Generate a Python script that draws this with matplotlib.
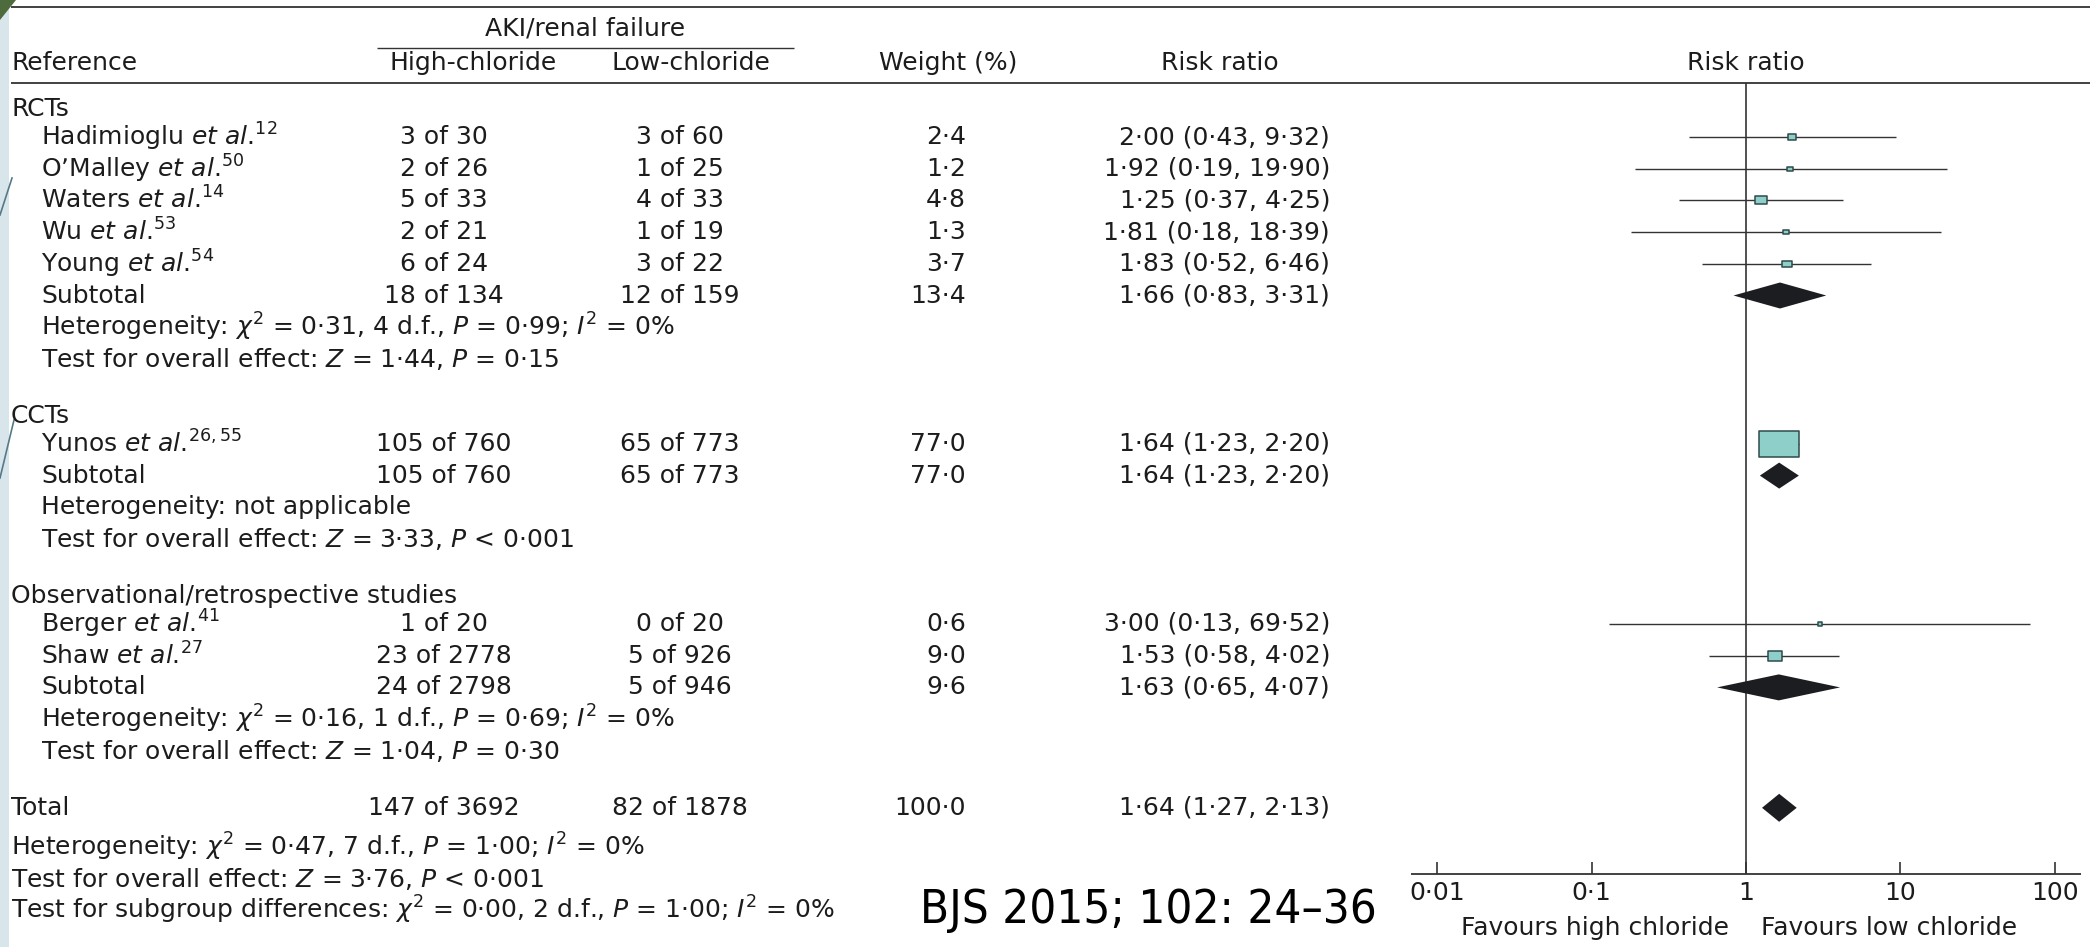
import numpy as np
import matplotlib.pyplot as plt
from matplotlib.patches import Rectangle, Polygon
from matplotlib.path import Path

plt.rcParams['font.family'] = ['DejaVu Sans']
plt.rcParams['mathtext.fontset'] = 'dejavusans'

# ---- data ----
groups = ["RCTs", "CCTs", "Observational/retrospective studies"]
authors = ["Hadimioglu", "O\u2019Malley", "Waters", "Wu", "Young", "Yunos", "Berger", "Shaw"]
refs = ["12", "50", "14", "53", "54", "26,55", "41", "27"]
study_group = [0, 0, 0, 0, 0, 1, 2, 2]
high_ev = [3, 2, 5, 2, 6, 105, 1, 23]
high_n = [30, 26, 33, 21, 24, 760, 20, 2778]
low_ev = [3, 1, 4, 1, 3, 65, 0, 5]
low_n = [60, 25, 33, 19, 22, 773, 20, 926]
weight = [2.4, 1.2, 4.8, 1.3, 3.7, 77.0, 0.6, 9.0]
rr = [2.00, 1.92, 1.25, 1.81, 1.83, 1.64, 3.00, 1.53]
rr_lo = [0.43, 0.19, 0.37, 0.18, 0.52, 1.23, 0.13, 0.58]
rr_hi = [9.32, 19.90, 4.25, 18.39, 6.46, 2.20, 69.52, 4.02]

sub_high_ev = [18, 105, 24]
sub_high_n = [134, 760, 2798]
sub_low_ev = [12, 65, 5]
sub_low_n = [159, 773, 946]
sub_weight = [13.4, 77.0, 9.6]
sub_rr = [1.66, 1.64, 1.63]
sub_lo = [0.83, 1.23, 0.65]
sub_hi = [3.31, 2.20, 4.07]
sub_het = [r"Heterogeneity: $\chi^2$ = 0·31, 4 d.f., $P$ = 0·99; $I^2$ = 0%",
           "Heterogeneity: not applicable",
           r"Heterogeneity: $\chi^2$ = 0·16, 1 d.f., $P$ = 0·69; $I^2$ = 0%"]
sub_test = [r"Test for overall effect: $Z$ = 1·44, $P$ = 0·15",
            r"Test for overall effect: $Z$ = 3·33, $P$ < 0·001",
            r"Test for overall effect: $Z$ = 1·04, $P$ = 0·30"]

tot_high = (147, 3692)
tot_low = (82, 1878)
tot_weight = 100.0
tot_rr, tot_lo, tot_hi = 1.64, 1.27, 2.13
tot_notes = [r"Heterogeneity: $\chi^2$ = 0·47, 7 d.f., $P$ = 1·00; $I^2$ = 0%",
             r"Test for overall effect: $Z$ = 3·76, $P$ < 0·001",
             r"Test for subgroup differences: $\chi^2$ = 0·00, 2 d.f., $P$ = 1·00; $I^2$ = 0%"]

ticks = [0.01, 0.1, 1, 10, 100]
tick_labels = ["0·01", "0·1", "1", "10", "100"]


def dot(v, d=2):
    return f"{v:.{d}f}".replace(".", "\u00b7")


# ---- layout (pixels) ----
W, H = 2090, 947
FS = 18
TXT = "#1c1c1c"
LINE = "#333333"
X_LEFT, X_IND = 11, 41
X_HIGH, X_LOW = 444, 680
X_WEIGHT, X_RR = 966, 1330
PITCH, HEAD_GAP, GROUP_GAP = 31.7, 28, 57

fig = plt.figure(figsize=(W / 100, H / 100), dpi=100)
ax = fig.add_axes([0, 0, 1, 1])
ax.set_xlim(0, W)
ax.set_ylim(H, 0)
ax.axis('off')

fx0, fx1 = 1411, 2081
fa = fig.add_axes([fx0 / W, 0, (fx1 - fx0) / W, 1])
fa.set_xscale('log')
fa.set_xlim(10 ** -2.17, 10 ** 2.17)
fa.set_ylim(H, 0)
fa.axis('off')

# slide decoration on the left edge
ax.add_patch(Rectangle((0, 0), 9, H, color="#d8e6eb", lw=0))
ax.add_patch(Polygon([(0, 0), (16, 0), (0, 20)], color="#4d6b3c", lw=0))
ax.plot([0, 12], [215, 178], color="#56798a", lw=1.2)
ax.plot([0, 14], [478, 420], color="#56798a", lw=1.2)


def put(x, y, s, ha='left', size=FS, **kw):
    ax.text(x, y, s, ha=ha, va='center', fontsize=size, color=TXT, **kw)


# header
ax.hlines([7, 83], 11, W, color=LINE, lw=1.3)
ax.hlines(48, 377, 794, color=LINE, lw=1.0)
put(585, 28, "AKI/renal failure", ha='center')
put(X_LEFT, 63, "Reference")
put(473, 63, "High-chloride", ha='center')
put(691, 63, "Low-chloride", ha='center')
put(948, 63, "Weight (%)", ha='center')
put(1220, 63, "Risk ratio", ha='center')
fa.text(1, 63, "Risk ratio", ha='center', va='center', fontsize=FS, color=TXT)

box = Path([(-1.5, -1), (1.5, -1), (1.5, 1), (-1.5, 1), (-1.5, -1)],
           [Path.MOVETO, Path.LINETO, Path.LINETO, Path.LINETO, Path.CLOSEPOLY])


def diamond(y, c, lo, hi, h=13):
    fa.fill([lo, c, hi, c], [y, y - h, y, y + h], color="#1c1d21", lw=0, zorder=3)


y = 109
for g, gname in enumerate(groups):
    put(X_LEFT, y, gname)
    y += HEAD_GAP
    for i in [k for k, sg in enumerate(study_group) if sg == g]:
        put(X_IND, y, authors[i] + r" $\mathit{et\ al}$.$^{" + refs[i] + "}$")
        put(X_HIGH, y, f"{high_ev[i]} of {high_n[i]}", ha='center')
        put(X_LOW, y, f"{low_ev[i]} of {low_n[i]}", ha='center')
        put(X_WEIGHT, y, dot(weight[i], 1), ha='right')
        put(X_RR, y, f"{dot(rr[i])} ({dot(rr_lo[i])}, {dot(rr_hi[i])})", ha='right')
        fa.hlines(y, rr_lo[i], rr_hi[i], color=LINE, lw=1.0, zorder=2)
        fa.plot(rr[i], y, marker=box, ms=3.2 * np.sqrt(weight[i]) + 1, mfc="#8ecfc9",
                mec="#2f4a4a", mew=1.1, zorder=4)
        y += PITCH
    put(X_IND, y, "Subtotal")
    put(X_HIGH, y, f"{sub_high_ev[g]} of {sub_high_n[g]}", ha='center')
    put(X_LOW, y, f"{sub_low_ev[g]} of {sub_low_n[g]}", ha='center')
    put(X_WEIGHT, y, dot(sub_weight[g], 1), ha='right')
    put(X_RR, y, f"{dot(sub_rr[g])} ({dot(sub_lo[g])}, {dot(sub_hi[g])})", ha='right')
    diamond(y, sub_rr[g], sub_lo[g], sub_hi[g])
    y += PITCH
    put(X_IND, y, sub_het[g])
    y += PITCH
    put(X_IND, y, sub_test[g])
    y += GROUP_GAP

put(X_LEFT, y, "Total")
put(X_HIGH, y, f"{tot_high[0]} of {tot_high[1]}", ha='center')
put(X_LOW, y, f"{tot_low[0]} of {tot_low[1]}", ha='center')
put(X_WEIGHT, y, dot(tot_weight, 1), ha='right')
put(X_RR, y, f"{dot(tot_rr)} ({dot(tot_lo)}, {dot(tot_hi)})", ha='right')
diamond(y, tot_rr, tot_lo, tot_hi, h=14)
y += 39
for note in tot_notes:
    put(X_LEFT, y, note)
    y += PITCH

# forest axis
AXIS_Y = 874
fa.vlines(1, 83, AXIS_Y, color=LINE, lw=1.2, zorder=1)
fa.hlines(AXIS_Y, *fa.get_xlim(), color=LINE, lw=1.3)
fa.vlines(ticks, AXIS_Y - 12, AXIS_Y, color=LINE, lw=1.2)
for t, lab in zip(ticks, tick_labels):
    fa.text(t, 893, lab, ha='center', va='center', fontsize=FS, color=TXT)
ax.text(1745 - 16, 928, "Favours high chloride", ha='right', va='center', fontsize=FS, color=TXT)
ax.text(1745 + 16, 928, "Favours low chloride", ha='left', va='center', fontsize=FS, color=TXT)

ax.text(1148, 910, "BJS 2015; 102: 24\u201336", ha='center', va='center', fontsize=34,
        color='black', family=['Liberation Sans Narrow', 'DejaVu Sans Condensed', 'DejaVu Sans'],
        fontstretch='condensed')

fig.savefig("out.png", dpi=100)
